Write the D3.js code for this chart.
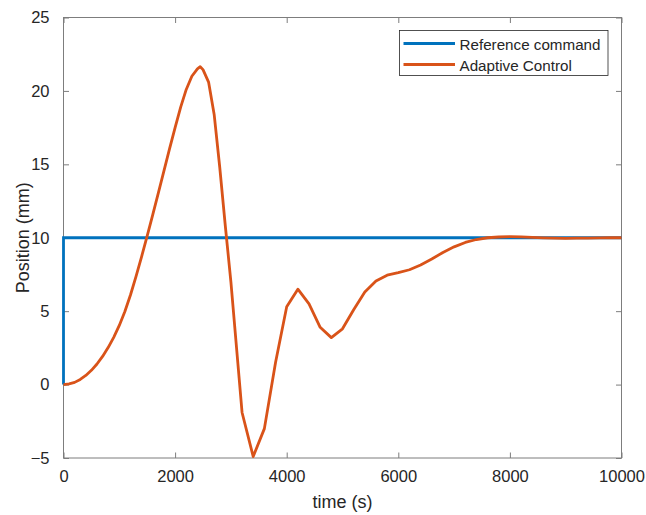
<!DOCTYPE html>
<html>
<head>
<meta charset="utf-8">
<script src="https://cdn.jsdelivr.net/npm/d3@7"></script>
<style>
  body { margin: 0; background: #fff; }
  text { font-family: "Liberation Sans", Arial, sans-serif; fill: #262626; }
</style>
</head>
<body>
<div id="chart"></div>
<script>
// reference step command
var refTime = [0, 0, 10000];
var refPos = [0, 10, 10];

// adaptive control response
var ctrlTime = [0, 100, 200, 300, 400, 500, 600, 700, 800, 900, 1000, 1100, 1200, 1300, 1400, 1500, 1600, 1700, 1800, 1900,
    2000, 2100, 2200, 2300, 2400, 2450, 2500, 2600, 2700, 2800, 2900, 3000,
    3200, 3400, 3600, 3800, 4000, 4200, 4400, 4600, 4800, 5000, 5200, 5400, 5600, 5800, 6000, 6200, 6400, 6600, 6800,
    7000, 7200, 7400, 7600, 7800, 8000, 8200, 8400, 8600, 8800, 9000, 9200, 9400, 9600, 9800, 10000];
var ctrlPos = [0, 0.05, 0.15, 0.35, 0.62, 0.97, 1.4, 1.92, 2.52, 3.22, 4.03, 4.98, 6.1, 7.37, 8.72, 10.12, 11.57, 13.05, 14.55, 16.05,
    17.5, 18.9, 20.1, 21.0, 21.5, 21.65, 21.45, 20.6, 18.4, 14.8, 10.8, 7.0,
    -1.9, -4.9, -3.0, 1.5, 5.3, 6.5, 5.5, 3.9, 3.2, 3.8, 5.1, 6.3, 7.05, 7.45, 7.62, 7.82, 8.15, 8.55, 9.0,
    9.38, 9.68, 9.88, 10.0, 10.05, 10.08, 10.06, 10.02, 9.99, 9.97, 9.96, 9.97, 9.98, 9.99, 10.0, 10.0];

var xTicks = [0, 2000, 4000, 6000, 8000, 10000];
var yTicks = [-5, 0, 5, 10, 15, 20, 25];
var seriesNames = ["Reference command", "Adaptive Control"];
var colors = ["#0072BD", "#D95319"];

var width = 646, height = 515;
var margin = {left: 63.5, right: 24.5, top: 17.5, bottom: 57};

var svg = d3.select("#chart")
    .append("svg")
    .attr("width", width)
    .attr("height", height)

var x = d3.scaleLinear().domain([0, 10000]).range([margin.left, width - margin.right]);
var y = d3.scaleLinear().domain([-5, 25]).range([height - margin.bottom, margin.top]);

var axisColor = "#7d7d7d";
var tickLen = 5.5;

// box
svg.append("rect")
    .attr("x", x(0))
    .attr("y", y(25))
    .attr("width", x(10000) - x(0))
    .attr("height", y(-5) - y(25))
    .attr("fill", "none")
    .attr("stroke", axisColor)
    .attr("stroke-width", 1)

// axes, ticks inward on all sides
var xAxisBottom = d3.axisBottom(x).tickValues(xTicks).tickSizeInner(-tickLen).tickSizeOuter(0).tickPadding(12).tickFormat(d3.format("d"));
var xAxisTop = d3.axisTop(x).tickValues(xTicks).tickSizeInner(-tickLen).tickSizeOuter(0).tickFormat("");
var yAxisLeft = d3.axisLeft(y).tickValues(yTicks).tickSizeInner(-tickLen).tickSizeOuter(0).tickPadding(14).tickFormat(d3.format("d"));
var yAxisRight = d3.axisRight(y).tickValues(yTicks).tickSizeInner(-tickLen).tickSizeOuter(0).tickFormat("");

function styleAxis(g) {
    g.select(".domain").remove();
    g.selectAll(".tick line").attr("stroke", axisColor);
    g.selectAll(".tick text")
        .attr("font-size", 16.5)
        .attr("font-family", "Liberation Sans, Arial, sans-serif")
        .attr("fill", "#262626");
}

svg.append("g").attr("transform", "translate(0," + y(-5) + ")").call(xAxisBottom).call(styleAxis)
svg.append("g").attr("transform", "translate(0," + y(25) + ")").call(xAxisTop).call(styleAxis)
svg.append("g").attr("transform", "translate(" + x(0) + ",0)").call(yAxisLeft).call(styleAxis)
svg.append("g").attr("transform", "translate(" + x(10000) + ",0)").call(yAxisRight).call(styleAxis)

// axis labels
svg.append("text")
    .attr("x", (x(0) + x(10000)) / 2)
    .attr("y", 508)
    .attr("text-anchor", "middle")
    .attr("font-size", 18)
    .text("time (s)")

svg.append("text")
    .attr("transform", "translate(28.5," + (y(-5) + y(25)) / 2 + ") rotate(-90)")
    .attr("text-anchor", "middle")
    .attr("font-size", 18)
    .text("Position (mm)")

var line = d3.line()
    .x(function(d) { return x(d[0]); })
    .y(function(d) { return y(d[1]); });

var refData = d3.zip(refTime, refPos);
var ctrlData = d3.zip(ctrlTime, ctrlPos);

svg.append("path")
    .datum(refData)
    .attr("d", line)
    .attr("fill", "none")
    .attr("stroke", colors[0])
    .attr("stroke-width", 2.8)

svg.append("path")
    .datum(ctrlData)
    .attr("d", line)
    .attr("fill", "none")
    .attr("stroke", colors[1])
    .attr("stroke-width", 2.8)
    .attr("stroke-linejoin", "round")

// legend
var legend = svg.append("g")

legend.append("rect")
    .attr("x", 399.5)
    .attr("y", 30.5)
    .attr("width", 208.5)
    .attr("height", 45)
    .attr("fill", "#fff")
    .attr("stroke", "#262626")
    .attr("stroke-width", 0.8)

var rows = legend.selectAll("g.row")
    .data(seriesNames)
    .join("g")
    .attr("class", "row")
    .attr("transform", function(d, i) { return "translate(0," + (43.5 + i * 21) + ")"; })

rows.append("line")
    .attr("x1", 403.5)
    .attr("x2", 455)
    .attr("stroke", function(d, i) { return colors[i]; })
    .attr("stroke-width", 2.8)

rows.append("text")
    .attr("x", 459.5)
    .attr("y", 6.5)
    .attr("font-size", 15.2)
    .text(function(d) { return d; })
</script>
</body>
</html>
